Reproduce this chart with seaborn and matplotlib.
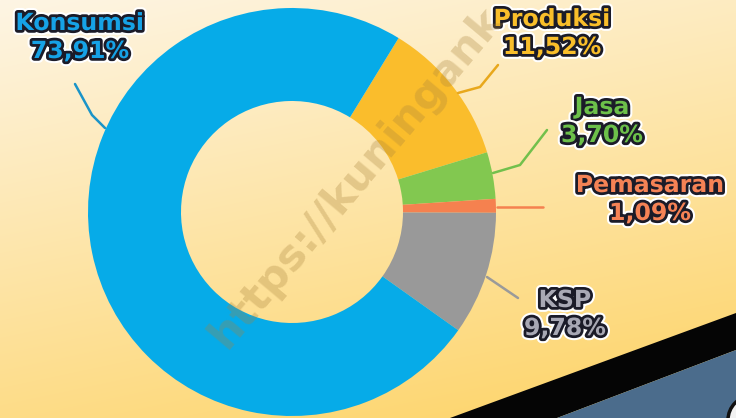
import numpy as np
import matplotlib.pyplot as plt
import matplotlib.patheffects as pe
from matplotlib.patches import Polygon, Circle
import seaborn as sns

# --- Data ---
categories = ['Produksi', 'Jasa', 'Pemasaran', 'KSP', 'Konsumsi']
shares = [11.52, 3.70, 1.09, 9.78, 73.91]
share_labels = ['11,52%', '3,70%', '1,09%', '9,78%', '73,91%']
slice_colors = ['#FABD2C', '#82C850', '#F5814F', '#999999', '#06ABE8']
text_colors = ['#F9BE2A', '#6CC04A', '#F58255', '#A8A8B4', '#16A2E6']
line_colors = ['#E8A81C', '#72C04C', '#F5814F', '#9A9A9A', '#1A94C8']

W, H = 736, 418


def px(x, y):
    # pixel coords (top-left origin) -> data coords
    return x, H - y


# label layout in pixel coords (centre of name line)
label_xy = [(552, 19), (602, 107), (650, 185), (565, 300), (80, 23)]
leader_pts = [
    [(458, 93), (480, 87), (498, 65)],
    [(493, 173), (520, 165), (547, 130)],
    [(497, 207), (543, 207)],
    [(487, 277), (518, 298)],
    [(105, 128), (92, 115), (75, 84)],
]

sns.set_theme(style="white")

fig = plt.figure(figsize=(W / 100, H / 100), dpi=100)
ax = fig.add_axes([0, 0, 1, 1])

# background gradient: cream top-left -> warm yellow bottom
yy, xx = np.mgrid[0:H, 0:W]
t = np.clip(0.8 * yy / H + 0.3 * xx / W, 0, 1)[..., None]
c0 = np.array([253, 245, 228]) / 255
c1 = np.array([254, 214, 112]) / 255
bg = c0 * (1 - t) + c1 * t
ax.imshow(bg, extent=[0, W, 0, H], origin='upper', zorder=0, aspect='auto')

# decoration in the bottom right corner
ax.add_patch(Polygon([px(450, 418), px(736, 313), px(736, 350), px(557, 418)],
                     closed=True, facecolor='#050505', edgecolor='none', zorder=1))
ax.add_patch(Polygon([px(557, 418), px(736, 350), px(736, 418)],
                     closed=True, facecolor='#4B6C8C', edgecolor='none', zorder=1))
ax.add_patch(Circle(px(752, 420), 24, facecolor='#F2F2F2', edgecolor='#111111',
                    lw=2.5, zorder=1))

# donut
cx, cy = px(292, 212)
wedges, _ = ax.pie(shares, colors=slice_colors, startangle=58.5, counterclock=False,
                   center=(cx, cy), radius=204,
                   wedgeprops=dict(width=93, edgecolor='none'))
for w in wedges:
    w.set_zorder(2)

# leader lines
for pts, col in zip(leader_pts, line_colors):
    xs, ys = zip(*[px(*p) for p in pts])
    ax.plot(xs, ys, color=col, lw=1.8, zorder=3, solid_capstyle='round')

# labels
outline = [pe.Stroke(linewidth=7, foreground='white'),
           pe.Stroke(linewidth=4, foreground='#1B1B28'),
           pe.Normal()]
for name, pct, (lx, ly), col in zip(categories, share_labels, label_xy, text_colors):
    for txt, dy in ((name, 0), (pct, 28)):
        ax.text(*px(lx, ly + dy), txt, ha='center', va='center', fontsize=17,
                fontweight='bold', family='DejaVu Sans', color=col,
                path_effects=outline, zorder=5)

# watermark
ax.text(*px(226, 350), 'https://kuningank', rotation=50, rotation_mode='anchor',
        ha='left', va='baseline', fontsize=31, fontweight='bold', color='#A8823A',
        alpha=0.3, family='DejaVu Sans', zorder=6)

ax.set_xlim(0, W)
ax.set_ylim(0, H)
ax.set_aspect('auto')
ax.axis('off')

fig.savefig('out.png', dpi=100)
